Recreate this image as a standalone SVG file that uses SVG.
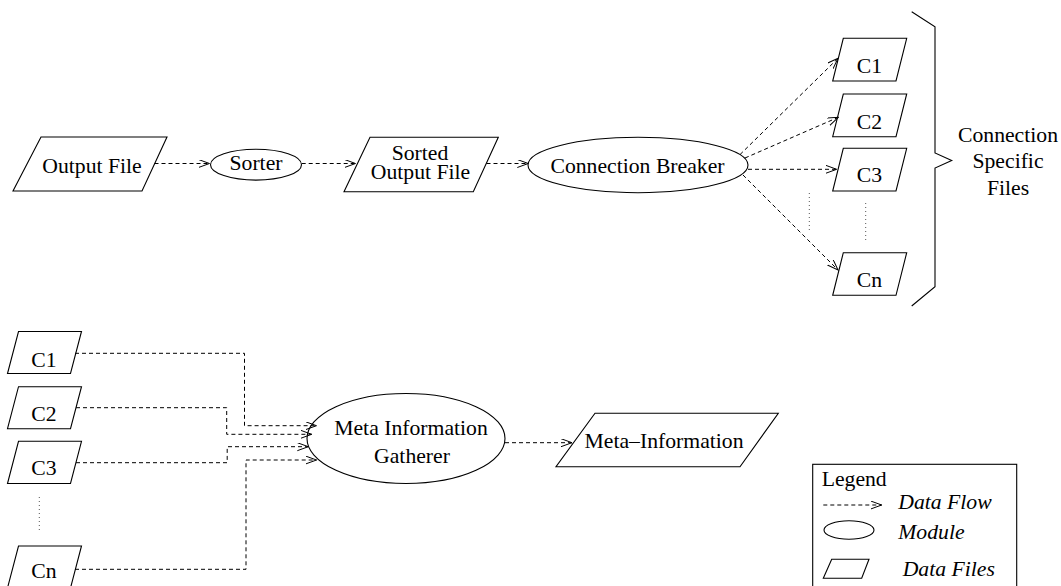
<svg xmlns="http://www.w3.org/2000/svg" width="1061" height="586" viewBox="0 0 1061 586">
<style>
.shape{fill:none;stroke:#000;stroke-width:1.1}
.flow{fill:none;stroke:#000;stroke-width:1;stroke-dasharray:4,3;marker-end:url(#ah)}
.dots{fill:none;stroke:#555;stroke-width:1;stroke-dasharray:1,3}
text{font-family:'Liberation Serif','DejaVu Serif',serif;font-size:21.7px;fill:#000}
.c{text-anchor:middle}
.it{font-style:italic}
</style>
<defs>
<marker id="ah" markerWidth="12" markerHeight="10" refX="11" refY="4" orient="auto" markerUnits="userSpaceOnUse">
<path d="M0,0 L11,4 L0,8" fill="none" stroke="#000" stroke-width="1"/>
</marker>
</defs>
<rect width="1061" height="586" fill="#fff"/>

<g id="connectors">
<path class="flow" d="M154.5,163.5 H209.5"/>
<path class="flow" d="M301.7,163.5 H355.5"/>
<path class="flow" d="M486.5,163.5 H528.3"/>
<path class="flow" d="M740,154.6 L838,58.3"/>
<path class="flow" d="M745,158 L838.3,117.3"/>
<path class="flow" d="M748,169.3 H836.7"/>
<path class="flow" d="M743,175 L838,270"/>
<path class="flow" d="M75,353.3 H244.5 V425.7 H316.5"/>
<path class="flow" d="M76,407.7 H226.7 V434.3 H311.7"/>
<path class="flow" d="M76,462.7 H227.2 V446.7 H308.3"/>
<path class="flow" d="M75,569.3 H246 V460 H316.5"/>
<path class="flow" d="M505,442.7 H572"/>
<path class="dots" d="M809.3,193 V230"/>
<path class="dots" d="M865.7,203 V240"/>
<path class="dots" d="M39.3,497 V532"/>
</g>

<g id="output-file">
<polygon class="shape" points="41,137 167,137 142,191 13,191"/>
<text class="c" x="92" y="172.7">Output File</text>
</g>
<g id="sorter">
<ellipse class="shape" cx="256" cy="164.7" rx="45.5" ry="15.4"/>
<text class="c" x="256" y="170">Sorter</text>
</g>
<g id="sorted-output-file">
<polygon class="shape" points="370,137.3 498.3,137.3 473.3,191.7 344,191.7"/>
<text class="c" x="420" y="159.5">Sorted</text>
<text class="c" x="420.5" y="178.5">Output File</text>
</g>
<g id="connection-breaker">
<ellipse class="shape" cx="638" cy="165" rx="110" ry="27.7"/>
<text class="c" x="637.5" y="173.3">Connection Breaker</text>
</g>

<g id="c1-right">
<polygon class="shape" points="843.3,38.3 906.7,38.3 896,81 832.7,81"/>
<text class="c" x="869.5" y="73.3">C1</text>
</g>
<g id="c2-right">
<polygon class="shape" points="843.3,94 906.7,94 896,136.7 832.7,136.7"/>
<text class="c" x="869.5" y="128.5">C2</text>
</g>
<g id="c3-right">
<polygon class="shape" points="843.3,148.3 906.7,148.3 896,191 832.7,191"/>
<text class="c" x="869.5" y="182">C3</text>
</g>
<g id="cn-right">
<polygon class="shape" points="843.3,252.7 906.7,252.7 896,295.3 832.7,295.3"/>
<text class="c" x="869.5" y="286.7">Cn</text>
</g>

<g id="brace">
<path class="shape" d="M911.7,11.7 L935,26.7 L935,153 L951.7,160.5 L935,168 L935,286.7 L911.7,306"/>
<text class="c" x="1008" y="141.7">Connection</text>
<text class="c" x="1008" y="168">Specific</text>
<text class="c" x="1008" y="194.5">Files</text>
</g>

<g id="c1-left">
<polygon class="shape" points="18.5,331.5 81.5,331.5 70.5,373.5 7.5,373.5"/>
<text class="c" x="44" y="366.7">C1</text>
</g>
<g id="c2-left">
<polygon class="shape" points="18.5,386.7 81.5,386.7 70.5,428.7 7.5,428.7"/>
<text class="c" x="44" y="420.7">C2</text>
</g>
<g id="c3-left">
<polygon class="shape" points="18.5,441.3 81.5,441.3 70.5,483.5 7.5,483.5"/>
<text class="c" x="44" y="475">C3</text>
</g>
<g id="cn-left">
<polygon class="shape" points="18.5,546 81.5,546 70.5,588 7.5,588"/>
<text class="c" x="44" y="578">Cn</text>
</g>

<g id="meta-information-gatherer">
<ellipse class="shape" cx="406" cy="438.5" rx="99" ry="45"/>
<text class="c" x="411" y="435">Meta Information</text>
<text class="c" x="412" y="463.3">Gatherer</text>
</g>
<g id="meta-information">
<polygon class="shape" points="595,413.3 778.3,413.3 740,466.7 556,466.7"/>
<text class="c" x="664" y="448.3">Meta–Information</text>
</g>

<g id="legend">
<rect class="shape" x="812.7" y="464.3" width="204" height="130"/>
<text x="821.7" y="485.7">Legend</text>
<path class="flow" d="M823.3,505 H881.7"/>
<text class="it" x="898.3" y="509.3">Data Flow</text>
<ellipse class="shape" cx="849" cy="530" rx="25" ry="9.3"/>
<text class="it" x="898.3" y="539.3">Module</text>
<polygon class="shape" points="831.7,559.3 869,559.3 861.7,578.3 823.3,578.3"/>
<text class="it" x="902.7" y="576">Data Files</text>
</g>
</svg>
